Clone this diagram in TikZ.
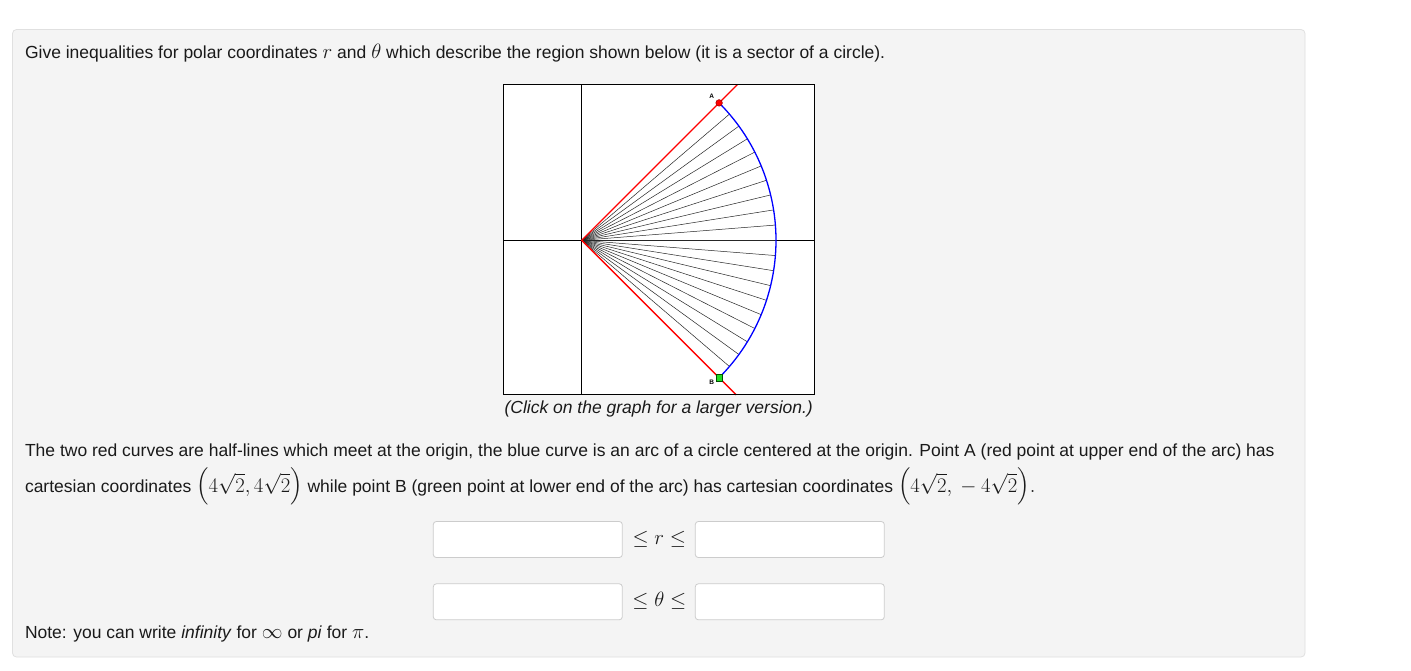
\documentclass[tikz,border=0pt]{standalone}
\usepackage{exscale}
\usepackage{fontspec}
\setmainfont{Liberation Sans}
\usetikzlibrary{calc}
\definecolor{panel}{HTML}{F4F4F4}
\definecolor{panelborder}{HTML}{E0E0E0}
\definecolor{boxborder}{HTML}{CCCCCC}
\definecolor{txt}{HTML}{1A1A1A}
\definecolor{ptgreen}{HTML}{22DD22}
\newcommand{\mth}[1]{{\fontsize{20}{22}\selectfont$#1$}}
\begin{document}
\begin{tikzpicture}[x=1pt,y=-1pt,
  every node/.style={inner sep=0pt, outer sep=0pt, text=txt},
  bodytext/.style={anchor=base west, font=\fontsize{17.5}{20}\selectfont},
  inbox/.style={draw=boxborder, fill=white, rounded corners=3pt, minimum width=189pt, minimum height=36pt, line width=0.8pt},
  fan/.style={line width=0.5pt, black!85},
  halfline/.style={red, line width=1.3pt},
  arcline/.style={blue, line width=1.3pt},
  ptlabel/.style={font=\fontsize{6.5}{7}\selectfont\bfseries, text=black}]
\useasboundingbox (0,0) rectangle (1411,670);
\fill[white] (0,0) rectangle (1411,670);
\draw[panelborder, fill=panel, rounded corners=4pt, line width=0.8pt] (12.5,29.5) rectangle (1305,657);

\node[bodytext] (q) at (25,58) {Give inequalities for polar coordinates \mth{r} and \mth{\theta} which describe the region shown below (it is a sector of a circle).};

% graph
\coordinate (O) at (581.7,240.3);
\fill[white] (503.5,84.5) rectangle (814,394.8);
\draw[black, line width=0.9pt] (581.7,84.5) -- (581.7,394.8);
\draw[black, line width=0.9pt] (503.5,240.3) -- (814,240.3);
\foreach \k in {1,...,19}
  \draw[fan] (O) -- ($(O)+({194.3*cos(-45+4.5*\k)},{194.3*sin(-45+4.5*\k)})$);
\coordinate (A) at ($(O)+(137.4,-137.4)$);
\coordinate (B) at ($(O)+(137.4,137.4)$);
\coordinate (Rt) at ($(O)+(155.8,-155.8)$);
\coordinate (Rb) at ($(O)+(154.5,154.5)$);
\draw[halfline] (Rt) -- (O) -- (Rb);
\draw[arcline] plot[domain=-45:45, samples=80] ({581.7+194.3*cos(\x)},{240.3+194.3*sin(\x)});
\draw[black, line width=0.9pt] (503.5,84.5) rectangle (814,394.8);
\filldraw[fill=red, draw=red!60!black, line width=0.5pt] (A) circle (3.3pt);
\filldraw[fill=ptgreen, draw=green!30!black, line width=0.5pt] ($(B)+(-3.3,-3.3)$) rectangle ($(B)+(3.3,3.3)$);
\node[ptlabel] (la) at (711.7,96.5) {A};
\node[ptlabel] (lb) at (711.7,382.7) {B};
\node[font=\fontsize{17.5}{20}\selectfont\itshape] (cap) at (658.7,409) {(Click on the graph for a larger version.)};

% paragraph
\node[bodytext] (p1) at (25,456) {The two red curves are half-lines which meet at the origin, the blue curve is an arc of a circle centered at the origin. Point A (red point at upper end of the arc) has};
\node[bodytext] (p2) at (25,492) {cartesian coordinates \mth{\Big(4\sqrt{2},4\sqrt{2}\Big)} while point B (green point at lower end of the arc) has cartesian coordinates \mth{\Big(4\sqrt{2},{}-4\sqrt{2}\Big).}};

% inputs
\node[inbox] (r1) at (527.8,539.5) {};
\node[inbox] (r2) at (789.8,539.5) {};
\node[font=\fontsize{20}{22}\selectfont] (rl) at (659.3,539.5) {$\leq r\leq$};
\node[inbox] (t1) at (527.8,601.8) {};
\node[inbox] (t2) at (789.8,601.8) {};
\node[font=\fontsize{20}{22}\selectfont] (tl) at (659.3,601) {$\leq \theta\leq$};

\node[bodytext] (note) at (25,638.5) {Note: you can write \textit{infinity} for \mth{\infty} or \textit{pi} for \mth{\pi}.};
\end{tikzpicture}
\end{document}
